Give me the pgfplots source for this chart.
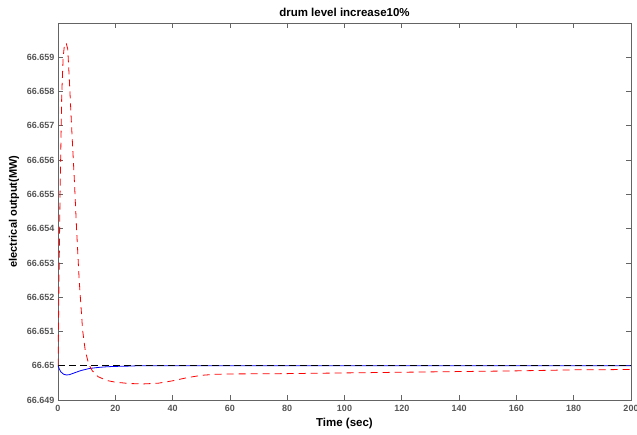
\documentclass[border=0pt]{standalone}
\usepackage{fontspec}
\setmainfont{Liberation Sans}
\usepackage{pgfplots}
\pgfplotsset{compat=1.18}
\definecolor{axgray}{RGB}{100,100,100}
\definecolor{lblgray}{RGB}{85,85,85}
\begin{document}
% y values are stored as offsets from 66.65 MW, in units of 0.001 MW
\begin{tikzpicture}
\useasboundingbox (-58pt,-34pt) rectangle (579pt,400pt);
\begin{axis}[
  at={(0,0)}, anchor=south west,
  scale only axis, width=573pt, height=377pt,
  xmin=0, xmax=200, ymin=-1, ymax=10,
  xtick={0,20,...,200},
  ytick={-1,0,1,2,3,4,5,6,7,8,9},
  yticklabels={66.649,66.65,66.651,66.652,66.653,66.654,66.655,66.656,66.657,66.658,66.659},
  tick align=inside, major tick length=5pt,
  tick style={axgray, line width=0.8pt},
  axis line style={axgray, line width=0.9pt},
  /pgf/number format/assume math mode=true,
  tick label style={font=\fontsize{9}{10}\selectfont\bfseries, text=lblgray},
  xticklabel style={yshift=-2pt},
  title={drum level increase10\%},
  title style={font=\fontsize{11.5}{12}\selectfont\bfseries, at={(axis description cs:0.5,1)}, anchor=center, yshift=5pt},
  xlabel={Time (sec)},
  xlabel style={font=\fontsize{11.5}{12}\selectfont\bfseries, at={(axis description cs:0.5,-0.0637)}, anchor=center},
  ylabel={electrical output(MW)},
  ylabel style={font=\fontsize{11}{12}\selectfont\bfseries, at={(axis description cs:-0.0768,0.5)}, anchor=center},
  clip=true,
]
\addplot[blue, line width=0.8pt] coordinates {
(0,0) (0.5,-0.1) (1,-0.18) (2,-0.25) (3,-0.27) (4,-0.26) (6,-0.2) (8,-0.14)
(11,-0.08) (14,-0.05) (17,-0.03) (20,-0.02) (25,-0.01) (28,0) (200,0)};
\addplot[black, line width=0.8pt, dash pattern=on 7pt off 4pt] coordinates {
(0,0) (200,0)};
\addplot[red, line width=0.8pt, dash pattern=on 7pt off 5pt] coordinates {
(0,0) (0.7,4.9) (1.3,7.9) (1.8,9.0) (2.3,9.4) (2.9,9.4) (3.4,9.24) (3.95,8.36)
(4.8,6.89) (5.7,5.43) (6.5,3.96) (7.4,2.49) (8.6,1.03) (9.5,0.45) (10.4,0.15)
(11,0.0) (12,-0.15) (14,-0.32) (17,-0.43) (20,-0.48) (25,-0.52) (30,-0.53)
(35,-0.51) (40,-0.44) (45,-0.35) (50,-0.28) (55,-0.25) (60,-0.24) (80,-0.23)
(100,-0.21) (120,-0.19) (140,-0.17) (160,-0.15) (180,-0.12) (200,-0.11)};
\end{axis}
\end{tikzpicture}
\end{document}
